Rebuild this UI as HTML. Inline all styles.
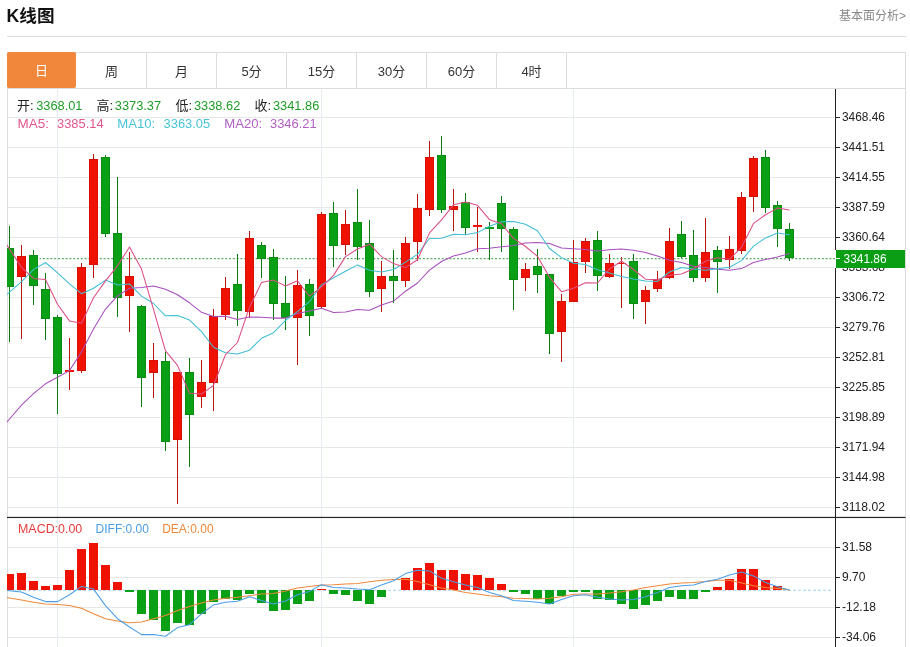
<!DOCTYPE html>
<html lang="zh-CN"><head><meta charset="utf-8"><title>K线图</title>
<style>
html,body{margin:0;padding:0;background:#fff;}
body{width:910px;height:647px;overflow:hidden;position:relative;font-family:"Liberation Sans","Noto Sans CJK SC",sans-serif;}
.title{position:absolute;left:6.4px;top:3.7px;font-size:17.6px;font-weight:bold;color:#111;line-height:24px;letter-spacing:0.1px;}
.more{position:absolute;right:4px;top:7.5px;font-size:12px;color:#888;line-height:16px;}
.hr{position:absolute;left:7px;top:36px;width:899px;height:1px;background:#dcdcdc;}
.tabs{position:absolute;left:7px;top:52px;width:897px;height:35px;border:1px solid #dcdcdc;box-sizing:content-box;}
.tab{float:left;box-sizing:border-box;width:70px;height:35px;border-right:1px solid #dcdcdc;text-align:center;line-height:37px;font-size:13px;color:#333;}
.tab.on{background:#f0873a;color:#fff;border-right:none;margin:-1px 1px 0 -1px;width:69px;height:36px;border-radius:2px;line-height:38px;}
.box{position:absolute;left:7px;top:88px;width:897px;height:559px;border-left:1px solid #dcdcdc;border-right:1px solid #dcdcdc;}
</style></head><body>
<div class="title">K线图</div>
<div class="more">基本面分析&gt;</div>
<div class="hr"></div>
<div class="tabs"><div class="tab on">日</div><div class="tab">周</div><div class="tab">月</div><div class="tab">5分</div><div class="tab">15分</div><div class="tab">30分</div><div class="tab">60分</div><div class="tab">4时</div></div>
<div class="box"></div>
<svg width="910" height="647" viewBox="0 0 910 647" style="position:absolute;left:0;top:0">
<defs><clipPath id="cp"><rect x="7" y="89" width="828" height="558"/></clipPath></defs>
<g shape-rendering="crispEdges">
<line x1="8" y1="117.5" x2="834" y2="117.5" stroke="#e7e7e7" stroke-width="1"/>
<line x1="8" y1="147.5" x2="834" y2="147.5" stroke="#e7e7e7" stroke-width="1"/>
<line x1="8" y1="177.5" x2="834" y2="177.5" stroke="#e7e7e7" stroke-width="1"/>
<line x1="8" y1="207.5" x2="834" y2="207.5" stroke="#e7e7e7" stroke-width="1"/>
<line x1="8" y1="237.5" x2="834" y2="237.5" stroke="#e7e7e7" stroke-width="1"/>
<line x1="8" y1="267.5" x2="834" y2="267.5" stroke="#e7e7e7" stroke-width="1"/>
<line x1="8" y1="297.5" x2="834" y2="297.5" stroke="#e7e7e7" stroke-width="1"/>
<line x1="8" y1="327.5" x2="834" y2="327.5" stroke="#e7e7e7" stroke-width="1"/>
<line x1="8" y1="357.5" x2="834" y2="357.5" stroke="#e7e7e7" stroke-width="1"/>
<line x1="8" y1="387.5" x2="834" y2="387.5" stroke="#e7e7e7" stroke-width="1"/>
<line x1="8" y1="417.5" x2="834" y2="417.5" stroke="#e7e7e7" stroke-width="1"/>
<line x1="8" y1="447.5" x2="834" y2="447.5" stroke="#e7e7e7" stroke-width="1"/>
<line x1="8" y1="477.5" x2="834" y2="477.5" stroke="#e7e7e7" stroke-width="1"/>
<line x1="8" y1="507.5" x2="834" y2="507.5" stroke="#e7e7e7" stroke-width="1"/>
<line x1="8" y1="547.5" x2="834" y2="547.5" stroke="#e7e7e7" stroke-width="1"/>
<line x1="8" y1="577.5" x2="834" y2="577.5" stroke="#e7e7e7" stroke-width="1"/>
<line x1="8" y1="607.5" x2="834" y2="607.5" stroke="#e7e7e7" stroke-width="1"/>
<line x1="8" y1="637.5" x2="834" y2="637.5" stroke="#e7e7e7" stroke-width="1"/>
<line x1="57.5" y1="89" x2="57.5" y2="647" stroke="#e7ecf1" stroke-width="1"/>
<line x1="321.5" y1="89" x2="321.5" y2="647" stroke="#e7ecf1" stroke-width="1"/>
<line x1="573.5" y1="89" x2="573.5" y2="647" stroke="#e7ecf1" stroke-width="1"/>
</g>
<line x1="39" y1="258.6" x2="835" y2="258.6" stroke="#5aad64" stroke-width="1.3" stroke-dasharray="2 1.8"/>
<line x1="8" y1="590.3" x2="833" y2="590.3" stroke="#a6d2f2" stroke-width="1" stroke-dasharray="3 2"/>
<rect x="8" y="250" width="31.5" height="18" fill="#fff"/>
<g clip-path="url(#cp)">
<g shape-rendering="crispEdges">
<rect x="9.0" y="226" width="1" height="116" fill="#0a7a12"/>
<rect x="5.0" y="248" width="9" height="39" fill="#088c12"/>
<rect x="6.0" y="249" width="7" height="37" fill="#0aa016"/>
<rect x="21.0" y="245" width="1" height="94" fill="#b81410"/>
<rect x="17.0" y="256" width="9" height="21" fill="#d81000"/>
<rect x="18.0" y="257" width="7" height="19" fill="#f01200"/>
<rect x="33.0" y="250" width="1" height="55" fill="#0a7a12"/>
<rect x="29.0" y="255" width="9" height="31" fill="#088c12"/>
<rect x="30.0" y="256" width="7" height="29" fill="#0aa016"/>
<rect x="45.0" y="273" width="1" height="67" fill="#0a7a12"/>
<rect x="41.0" y="289" width="9" height="30" fill="#088c12"/>
<rect x="42.0" y="290" width="7" height="28" fill="#0aa016"/>
<rect x="57.0" y="315" width="1" height="99" fill="#0a7a12"/>
<rect x="53.0" y="317" width="9" height="57" fill="#088c12"/>
<rect x="54.0" y="318" width="7" height="55" fill="#0aa016"/>
<rect x="69.0" y="338" width="1" height="52" fill="#b81410"/>
<rect x="65.0" y="370" width="9" height="2" fill="#f01200"/>
<rect x="81.0" y="263" width="1" height="110" fill="#b81410"/>
<rect x="77.0" y="267" width="9" height="104" fill="#d81000"/>
<rect x="78.0" y="268" width="7" height="102" fill="#f01200"/>
<rect x="93.0" y="154" width="1" height="124" fill="#b81410"/>
<rect x="89.0" y="159" width="9" height="106" fill="#d81000"/>
<rect x="90.0" y="160" width="7" height="104" fill="#f01200"/>
<rect x="105.0" y="155" width="1" height="82" fill="#0a7a12"/>
<rect x="101.0" y="157" width="9" height="77" fill="#088c12"/>
<rect x="102.0" y="158" width="7" height="75" fill="#0aa016"/>
<rect x="117.0" y="177" width="1" height="140" fill="#0a7a12"/>
<rect x="113.0" y="233" width="9" height="65" fill="#088c12"/>
<rect x="114.0" y="234" width="7" height="63" fill="#0aa016"/>
<rect x="129.0" y="252" width="1" height="80" fill="#b81410"/>
<rect x="125.0" y="276" width="9" height="20" fill="#d81000"/>
<rect x="126.0" y="277" width="7" height="18" fill="#f01200"/>
<rect x="141.0" y="305" width="1" height="102" fill="#0a7a12"/>
<rect x="137.0" y="306" width="9" height="72" fill="#088c12"/>
<rect x="138.0" y="307" width="7" height="70" fill="#0aa016"/>
<rect x="153.0" y="343" width="1" height="55" fill="#b81410"/>
<rect x="149.0" y="360" width="9" height="13" fill="#d81000"/>
<rect x="150.0" y="361" width="7" height="11" fill="#f01200"/>
<rect x="165.0" y="352" width="1" height="99" fill="#0a7a12"/>
<rect x="161.0" y="361" width="9" height="81" fill="#088c12"/>
<rect x="162.0" y="362" width="7" height="79" fill="#0aa016"/>
<rect x="177.0" y="372" width="1" height="132" fill="#b81410"/>
<rect x="173.0" y="372" width="9" height="68" fill="#d81000"/>
<rect x="174.0" y="373" width="7" height="66" fill="#f01200"/>
<rect x="189.0" y="358" width="1" height="109" fill="#0a7a12"/>
<rect x="185.0" y="372" width="9" height="43" fill="#088c12"/>
<rect x="186.0" y="373" width="7" height="41" fill="#0aa016"/>
<rect x="201.0" y="360" width="1" height="48" fill="#b81410"/>
<rect x="197.0" y="382" width="9" height="15" fill="#d81000"/>
<rect x="198.0" y="383" width="7" height="13" fill="#f01200"/>
<rect x="213.0" y="309" width="1" height="102" fill="#b81410"/>
<rect x="209.0" y="316" width="9" height="67" fill="#d81000"/>
<rect x="210.0" y="317" width="7" height="65" fill="#f01200"/>
<rect x="225.0" y="277" width="1" height="43" fill="#b81410"/>
<rect x="221.0" y="288" width="9" height="27" fill="#d81000"/>
<rect x="222.0" y="289" width="7" height="25" fill="#f01200"/>
<rect x="237.0" y="254" width="1" height="72" fill="#0a7a12"/>
<rect x="233.0" y="284" width="9" height="27" fill="#088c12"/>
<rect x="234.0" y="285" width="7" height="25" fill="#0aa016"/>
<rect x="249.0" y="231" width="1" height="87" fill="#b81410"/>
<rect x="245.0" y="238" width="9" height="74" fill="#d81000"/>
<rect x="246.0" y="239" width="7" height="72" fill="#f01200"/>
<rect x="261.0" y="242" width="1" height="36" fill="#0a7a12"/>
<rect x="257.0" y="245" width="9" height="14" fill="#088c12"/>
<rect x="258.0" y="246" width="7" height="12" fill="#0aa016"/>
<rect x="273.0" y="249" width="1" height="71" fill="#0a7a12"/>
<rect x="269.0" y="257" width="9" height="47" fill="#088c12"/>
<rect x="270.0" y="258" width="7" height="45" fill="#0aa016"/>
<rect x="285.0" y="276" width="1" height="54" fill="#0a7a12"/>
<rect x="281.0" y="303" width="9" height="15" fill="#088c12"/>
<rect x="282.0" y="304" width="7" height="13" fill="#0aa016"/>
<rect x="297.0" y="270" width="1" height="95" fill="#b81410"/>
<rect x="293.0" y="285" width="9" height="33" fill="#d81000"/>
<rect x="294.0" y="286" width="7" height="31" fill="#f01200"/>
<rect x="309.0" y="279" width="1" height="57" fill="#0a7a12"/>
<rect x="305.0" y="284" width="9" height="32" fill="#088c12"/>
<rect x="306.0" y="285" width="7" height="30" fill="#0aa016"/>
<rect x="321.0" y="212" width="1" height="96" fill="#b81410"/>
<rect x="317.0" y="214" width="9" height="93" fill="#d81000"/>
<rect x="318.0" y="215" width="7" height="91" fill="#f01200"/>
<rect x="333.0" y="202" width="1" height="65" fill="#0a7a12"/>
<rect x="329.0" y="213" width="9" height="33" fill="#088c12"/>
<rect x="330.0" y="214" width="7" height="31" fill="#0aa016"/>
<rect x="345.0" y="210" width="1" height="45" fill="#b81410"/>
<rect x="341.0" y="224" width="9" height="21" fill="#d81000"/>
<rect x="342.0" y="225" width="7" height="19" fill="#f01200"/>
<rect x="357.0" y="189" width="1" height="71" fill="#0a7a12"/>
<rect x="353.0" y="222" width="9" height="25" fill="#088c12"/>
<rect x="354.0" y="223" width="7" height="23" fill="#0aa016"/>
<rect x="369.0" y="220" width="1" height="77" fill="#0a7a12"/>
<rect x="365.0" y="243" width="9" height="49" fill="#088c12"/>
<rect x="366.0" y="244" width="7" height="47" fill="#0aa016"/>
<rect x="381.0" y="261" width="1" height="51" fill="#b81410"/>
<rect x="377.0" y="276" width="9" height="13" fill="#d81000"/>
<rect x="378.0" y="277" width="7" height="11" fill="#f01200"/>
<rect x="393.0" y="250" width="1" height="53" fill="#0a7a12"/>
<rect x="389.0" y="276" width="9" height="5" fill="#088c12"/>
<rect x="390.0" y="277" width="7" height="3" fill="#0aa016"/>
<rect x="405.0" y="237" width="1" height="50" fill="#b81410"/>
<rect x="401.0" y="243" width="9" height="38" fill="#d81000"/>
<rect x="402.0" y="244" width="7" height="36" fill="#f01200"/>
<rect x="417.0" y="194" width="1" height="67" fill="#b81410"/>
<rect x="413.0" y="208" width="9" height="34" fill="#d81000"/>
<rect x="414.0" y="209" width="7" height="32" fill="#f01200"/>
<rect x="429.0" y="141" width="1" height="75" fill="#b81410"/>
<rect x="425.0" y="157" width="9" height="53" fill="#d81000"/>
<rect x="426.0" y="158" width="7" height="51" fill="#f01200"/>
<rect x="441.0" y="136" width="1" height="77" fill="#0a7a12"/>
<rect x="437.0" y="155" width="9" height="55" fill="#088c12"/>
<rect x="438.0" y="156" width="7" height="53" fill="#0aa016"/>
<rect x="453.0" y="189" width="1" height="42" fill="#b81410"/>
<rect x="449.0" y="206" width="9" height="4" fill="#d81000"/>
<rect x="450.0" y="207" width="7" height="2" fill="#f01200"/>
<rect x="465.0" y="193" width="1" height="42" fill="#0a7a12"/>
<rect x="461.0" y="202" width="9" height="26" fill="#088c12"/>
<rect x="462.0" y="203" width="7" height="24" fill="#0aa016"/>
<rect x="477.0" y="207" width="1" height="45" fill="#b81410"/>
<rect x="473.0" y="225" width="9" height="2" fill="#f01200"/>
<rect x="489.0" y="222" width="1" height="38" fill="#0a7a12"/>
<rect x="485.0" y="227" width="9" height="2" fill="#0aa016"/>
<rect x="501.0" y="196" width="1" height="56" fill="#0a7a12"/>
<rect x="497.0" y="203" width="9" height="26" fill="#088c12"/>
<rect x="498.0" y="204" width="7" height="24" fill="#0aa016"/>
<rect x="513.0" y="227" width="1" height="83" fill="#0a7a12"/>
<rect x="509.0" y="229" width="9" height="51" fill="#088c12"/>
<rect x="510.0" y="230" width="7" height="49" fill="#0aa016"/>
<rect x="525.0" y="263" width="1" height="28" fill="#b81410"/>
<rect x="521.0" y="269" width="9" height="9" fill="#d81000"/>
<rect x="522.0" y="270" width="7" height="7" fill="#f01200"/>
<rect x="537.0" y="249" width="1" height="44" fill="#0a7a12"/>
<rect x="533.0" y="266" width="9" height="9" fill="#088c12"/>
<rect x="534.0" y="267" width="7" height="7" fill="#0aa016"/>
<rect x="549.0" y="274" width="1" height="80" fill="#0a7a12"/>
<rect x="545.0" y="274" width="9" height="60" fill="#088c12"/>
<rect x="546.0" y="275" width="7" height="58" fill="#0aa016"/>
<rect x="561.0" y="294" width="1" height="68" fill="#b81410"/>
<rect x="557.0" y="301" width="9" height="31" fill="#d81000"/>
<rect x="558.0" y="302" width="7" height="29" fill="#f01200"/>
<rect x="573.0" y="240" width="1" height="62" fill="#b81410"/>
<rect x="569.0" y="262" width="9" height="40" fill="#d81000"/>
<rect x="570.0" y="263" width="7" height="38" fill="#f01200"/>
<rect x="585.0" y="238" width="1" height="35" fill="#b81410"/>
<rect x="581.0" y="241" width="9" height="21" fill="#d81000"/>
<rect x="582.0" y="242" width="7" height="19" fill="#f01200"/>
<rect x="597.0" y="231" width="1" height="60" fill="#0a7a12"/>
<rect x="593.0" y="240" width="9" height="36" fill="#088c12"/>
<rect x="594.0" y="241" width="7" height="34" fill="#0aa016"/>
<rect x="609.0" y="254" width="1" height="24" fill="#b81410"/>
<rect x="605.0" y="263" width="9" height="14" fill="#d81000"/>
<rect x="606.0" y="264" width="7" height="12" fill="#f01200"/>
<rect x="621.0" y="257" width="1" height="51" fill="#b81410"/>
<rect x="617.0" y="263" width="9" height="1" fill="#f01200"/>
<rect x="633.0" y="254" width="1" height="65" fill="#0a7a12"/>
<rect x="629.0" y="261" width="9" height="43" fill="#088c12"/>
<rect x="630.0" y="262" width="7" height="41" fill="#0aa016"/>
<rect x="645.0" y="286" width="1" height="38" fill="#b81410"/>
<rect x="641.0" y="290" width="9" height="12" fill="#d81000"/>
<rect x="642.0" y="291" width="7" height="10" fill="#f01200"/>
<rect x="657.0" y="271" width="1" height="21" fill="#b81410"/>
<rect x="653.0" y="279" width="9" height="10" fill="#d81000"/>
<rect x="654.0" y="280" width="7" height="8" fill="#f01200"/>
<rect x="669.0" y="228" width="1" height="51" fill="#b81410"/>
<rect x="665.0" y="241" width="9" height="37" fill="#d81000"/>
<rect x="666.0" y="242" width="7" height="35" fill="#f01200"/>
<rect x="681.0" y="221" width="1" height="37" fill="#0a7a12"/>
<rect x="677.0" y="234" width="9" height="23" fill="#088c12"/>
<rect x="678.0" y="235" width="7" height="21" fill="#0aa016"/>
<rect x="693.0" y="230" width="1" height="52" fill="#0a7a12"/>
<rect x="689.0" y="255" width="9" height="23" fill="#088c12"/>
<rect x="690.0" y="256" width="7" height="21" fill="#0aa016"/>
<rect x="705.0" y="218" width="1" height="64" fill="#b81410"/>
<rect x="701.0" y="252" width="9" height="26" fill="#d81000"/>
<rect x="702.0" y="253" width="7" height="24" fill="#f01200"/>
<rect x="717.0" y="246" width="1" height="47" fill="#0a7a12"/>
<rect x="713.0" y="250" width="9" height="12" fill="#088c12"/>
<rect x="714.0" y="251" width="7" height="10" fill="#0aa016"/>
<rect x="729.0" y="236" width="1" height="33" fill="#b81410"/>
<rect x="725.0" y="249" width="9" height="11" fill="#d81000"/>
<rect x="726.0" y="250" width="7" height="9" fill="#f01200"/>
<rect x="741.0" y="192" width="1" height="62" fill="#b81410"/>
<rect x="737.0" y="197" width="9" height="54" fill="#d81000"/>
<rect x="738.0" y="198" width="7" height="52" fill="#f01200"/>
<rect x="753.0" y="156" width="1" height="56" fill="#b81410"/>
<rect x="749.0" y="158" width="9" height="39" fill="#d81000"/>
<rect x="750.0" y="159" width="7" height="37" fill="#f01200"/>
<rect x="765.0" y="150" width="1" height="63" fill="#0a7a12"/>
<rect x="761.0" y="157" width="9" height="51" fill="#088c12"/>
<rect x="762.0" y="158" width="7" height="49" fill="#0aa016"/>
<rect x="777.0" y="201" width="1" height="46" fill="#0a7a12"/>
<rect x="773.0" y="205" width="9" height="24" fill="#088c12"/>
<rect x="774.0" y="206" width="7" height="22" fill="#0aa016"/>
<rect x="789.0" y="223" width="1" height="38" fill="#0a7a12"/>
<rect x="785.0" y="229" width="9" height="29" fill="#088c12"/>
<rect x="786.0" y="230" width="7" height="27" fill="#0aa016"/>
</g>
<g shape-rendering="crispEdges">
<rect x="5.0" y="574" width="9" height="16" fill="#f01200"/>
<rect x="17.0" y="573" width="9" height="17" fill="#f01200"/>
<rect x="29.0" y="581" width="9" height="9" fill="#f01200"/>
<rect x="41.0" y="586" width="9" height="4" fill="#f01200"/>
<rect x="53.0" y="585" width="9" height="5" fill="#f01200"/>
<rect x="65.0" y="570" width="9" height="20" fill="#f01200"/>
<rect x="77.0" y="549" width="9" height="41" fill="#f01200"/>
<rect x="89.0" y="543" width="9" height="47" fill="#f01200"/>
<rect x="101.0" y="565" width="9" height="25" fill="#f01200"/>
<rect x="113.0" y="582" width="9" height="8" fill="#f01200"/>
<rect x="125.0" y="590" width="9" height="2" fill="#0aa016"/>
<rect x="137.0" y="590" width="9" height="24" fill="#0aa016"/>
<rect x="149.0" y="590" width="9" height="30" fill="#0aa016"/>
<rect x="161.0" y="590" width="9" height="41" fill="#0aa016"/>
<rect x="173.0" y="590" width="9" height="33" fill="#0aa016"/>
<rect x="185.0" y="590" width="9" height="35" fill="#0aa016"/>
<rect x="197.0" y="590" width="9" height="24" fill="#0aa016"/>
<rect x="209.0" y="590" width="9" height="12" fill="#0aa016"/>
<rect x="221.0" y="590" width="9" height="9" fill="#0aa016"/>
<rect x="233.0" y="590" width="9" height="10" fill="#0aa016"/>
<rect x="245.0" y="590" width="9" height="4" fill="#0aa016"/>
<rect x="257.0" y="590" width="9" height="13" fill="#0aa016"/>
<rect x="269.0" y="590" width="9" height="21" fill="#0aa016"/>
<rect x="281.0" y="590" width="9" height="20" fill="#0aa016"/>
<rect x="293.0" y="590" width="9" height="14" fill="#0aa016"/>
<rect x="305.0" y="590" width="9" height="11" fill="#0aa016"/>
<rect x="317.0" y="589" width="9" height="1" fill="#f01200"/>
<rect x="329.0" y="590" width="9" height="4" fill="#0aa016"/>
<rect x="341.0" y="590" width="9" height="5" fill="#0aa016"/>
<rect x="353.0" y="590" width="9" height="11" fill="#0aa016"/>
<rect x="365.0" y="590" width="9" height="14" fill="#0aa016"/>
<rect x="377.0" y="590" width="9" height="7" fill="#0aa016"/>
<rect x="401.0" y="578" width="9" height="12" fill="#f01200"/>
<rect x="413.0" y="568" width="9" height="22" fill="#f01200"/>
<rect x="425.0" y="563" width="9" height="27" fill="#f01200"/>
<rect x="437.0" y="570" width="9" height="20" fill="#f01200"/>
<rect x="449.0" y="570" width="9" height="20" fill="#f01200"/>
<rect x="461.0" y="574" width="9" height="16" fill="#f01200"/>
<rect x="473.0" y="575" width="9" height="15" fill="#f01200"/>
<rect x="485.0" y="578" width="9" height="12" fill="#f01200"/>
<rect x="497.0" y="584" width="9" height="6" fill="#f01200"/>
<rect x="509.0" y="590" width="9" height="2" fill="#0aa016"/>
<rect x="521.0" y="590" width="9" height="4" fill="#0aa016"/>
<rect x="533.0" y="590" width="9" height="9" fill="#0aa016"/>
<rect x="545.0" y="590" width="9" height="14" fill="#0aa016"/>
<rect x="557.0" y="590" width="9" height="6" fill="#0aa016"/>
<rect x="569.0" y="590" width="9" height="2" fill="#0aa016"/>
<rect x="581.0" y="590" width="9" height="2" fill="#0aa016"/>
<rect x="593.0" y="590" width="9" height="9" fill="#0aa016"/>
<rect x="605.0" y="590" width="9" height="10" fill="#0aa016"/>
<rect x="617.0" y="590" width="9" height="14" fill="#0aa016"/>
<rect x="629.0" y="590" width="9" height="19" fill="#0aa016"/>
<rect x="641.0" y="590" width="9" height="15" fill="#0aa016"/>
<rect x="653.0" y="590" width="9" height="11" fill="#0aa016"/>
<rect x="665.0" y="590" width="9" height="7" fill="#0aa016"/>
<rect x="677.0" y="590" width="9" height="9" fill="#0aa016"/>
<rect x="689.0" y="590" width="9" height="9" fill="#0aa016"/>
<rect x="701.0" y="590" width="9" height="2" fill="#0aa016"/>
<rect x="713.0" y="587" width="9" height="3" fill="#f01200"/>
<rect x="725.0" y="579" width="9" height="11" fill="#f01200"/>
<rect x="737.0" y="569" width="9" height="21" fill="#f01200"/>
<rect x="749.0" y="569" width="9" height="21" fill="#f01200"/>
<rect x="761.0" y="580" width="9" height="10" fill="#f01200"/>
<rect x="773.0" y="586" width="9" height="4" fill="#f01200"/>
</g>
<polyline points="-2.5,432.8 9.5,419.0 21.5,405.2 33.5,393.7 45.5,383.8 57.5,377.2 69.5,370.6 81.5,352.0 93.5,329.0 105.5,309.1 117.5,295.9 129.5,288.2 141.5,287.6 153.5,286.0 165.5,289.3 177.5,294.8 189.5,302.8 201.5,312.3 213.5,316.6 225.5,316.2 237.5,319.5 249.5,317.1 261.5,317.2 273.5,318.1 285.5,318.1 297.5,313.6 309.5,310.9 321.5,308.2 333.5,312.5 345.5,312.0 357.5,309.4 369.5,310.2 381.5,305.1 393.5,301.1 405.5,291.2 417.5,283.0 429.5,270.1 441.5,261.5 453.5,256.0 465.5,253.0 477.5,248.7 489.5,248.3 501.5,246.8 513.5,245.6 525.5,243.1 537.5,242.6 549.5,243.5 561.5,247.9 573.5,248.8 585.5,249.6 597.5,251.1 609.5,249.7 621.5,249.1 633.5,250.2 645.5,252.6 657.5,256.1 669.5,260.3 681.5,262.6 693.5,266.2 705.5,267.4 717.5,269.2 729.5,270.2 741.5,268.6 753.5,262.5 765.5,259.4 777.5,257.1 789.5,253.4" fill="none" stroke="#a84fbc" stroke-width="1.05" stroke-linejoin="round"/>
<polyline points="-2.5,302.8 9.5,292.2 21.5,281.6 33.5,269.6 45.5,262.5 57.5,272.9 69.5,283.8 81.5,293.7 93.5,288.2 105.5,280.1 117.5,285.0 129.5,283.9 141.5,296.1 153.5,303.5 165.5,315.8 177.5,315.6 189.5,320.1 201.5,331.6 213.5,347.3 225.5,352.7 237.5,354.0 249.5,350.2 261.5,338.3 273.5,332.7 285.5,320.3 297.5,311.6 309.5,301.7 321.5,284.9 333.5,277.8 345.5,271.3 357.5,264.9 369.5,270.2 381.5,271.9 393.5,269.5 405.5,262.1 417.5,254.4 429.5,238.5 441.5,238.2 453.5,234.2 465.5,234.7 477.5,232.6 489.5,226.3 501.5,221.7 513.5,221.6 525.5,224.2 537.5,230.8 549.5,248.5 561.5,257.6 573.5,263.3 585.5,264.6 597.5,269.7 609.5,273.1 621.5,276.5 633.5,278.9 645.5,280.9 657.5,281.4 669.5,272.0 681.5,267.6 693.5,269.1 705.5,270.2 717.5,268.7 729.5,267.2 741.5,260.6 753.5,246.1 765.5,237.9 777.5,232.9 789.5,234.7" fill="none" stroke="#3fbed2" stroke-width="1.05" stroke-linejoin="round"/>
<polyline points="-2.5,230.6 9.5,249.0 21.5,267.4 33.5,278.4 45.5,279.5 57.5,304.2 69.5,320.9 81.5,323.2 93.5,297.8 105.5,280.9 117.5,265.8 129.5,247.0 141.5,269.1 153.5,309.3 165.5,350.8 177.5,365.4 189.5,393.2 201.5,394.1 213.5,385.3 225.5,354.6 237.5,342.5 249.5,307.2 261.5,282.5 273.5,280.1 285.5,286.0 297.5,280.8 309.5,296.2 321.5,287.2 333.5,275.4 345.5,256.6 357.5,249.0 369.5,244.2 381.5,256.6 393.5,263.6 405.5,267.6 417.5,259.8 429.5,232.9 441.5,219.8 453.5,204.8 465.5,201.9 477.5,205.3 489.5,219.7 501.5,223.5 513.5,238.4 525.5,246.5 537.5,256.3 549.5,277.3 561.5,291.7 573.5,288.2 585.5,282.7 597.5,283.0 609.5,268.9 621.5,261.2 633.5,269.5 645.5,279.2 657.5,279.7 669.5,275.2 681.5,274.0 693.5,268.8 705.5,261.2 717.5,257.8 729.5,259.3 741.5,247.3 753.5,223.4 765.5,214.7 777.5,208.1 789.5,210.1" fill="none" stroke="#dc4e86" stroke-width="1.05" stroke-linejoin="round"/>
<polyline points="-2.5,596.0 9.5,598.0 21.5,600.0 33.5,602.3 45.5,603.9 57.5,604.6 69.5,605.6 81.5,608.2 93.5,613.8 105.5,618.7 117.5,621.0 129.5,622.7 141.5,622.0 153.5,618.7 165.5,615.4 177.5,610.5 189.5,606.5 201.5,602.9 213.5,600.0 225.5,598.3 237.5,597.3 249.5,595.7 261.5,594.0 273.5,593.4 285.5,591.0 297.5,588.1 309.5,586.4 321.5,585.1 333.5,584.8 345.5,584.1 357.5,583.5 369.5,581.8 381.5,580.2 393.5,579.5 405.5,579.2 417.5,581.5 429.5,584.8 441.5,588.1 453.5,590.0 465.5,592.4 477.5,594.0 489.5,595.7 501.5,596.7 513.5,598.3 525.5,598.6 537.5,599.0 549.5,598.3 561.5,596.7 573.5,594.2 585.5,594.0 597.5,594.0 609.5,593.0 621.5,591.7 633.5,590.0 645.5,587.4 657.5,585.8 669.5,584.1 681.5,583.1 693.5,582.5 705.5,581.5 717.5,580.2 729.5,580.2 741.5,583.1 753.5,585.8 765.5,587.4 777.5,588.4 789.5,590.0" fill="none" stroke="#f0883a" stroke-width="1.05" stroke-linejoin="round"/>
<polyline points="-2.5,589.4 9.5,590.7 21.5,592.0 33.5,597.3 45.5,601.6 57.5,601.6 69.5,594.7 81.5,586.4 93.5,589.1 105.5,605.6 117.5,618.7 129.5,627.0 141.5,634.6 153.5,634.6 165.5,636.2 177.5,627.6 189.5,624.7 201.5,613.8 213.5,604.9 225.5,602.3 237.5,601.3 249.5,596.7 261.5,600.6 273.5,603.9 285.5,601.0 297.5,594.7 309.5,591.4 321.5,584.8 333.5,587.4 345.5,588.1 357.5,589.1 369.5,589.7 381.5,585.1 393.5,580.8 405.5,573.6 417.5,570.3 429.5,570.9 441.5,578.2 453.5,581.8 465.5,585.1 477.5,587.4 489.5,592.4 501.5,595.7 513.5,600.6 525.5,601.3 537.5,602.3 549.5,603.9 561.5,599.6 573.5,595.7 585.5,594.7 597.5,597.3 609.5,599.0 621.5,600.0 633.5,599.6 645.5,596.7 657.5,592.4 669.5,587.4 681.5,585.8 693.5,585.1 705.5,581.5 717.5,579.2 729.5,574.9 741.5,571.9 753.5,575.9 765.5,582.5 777.5,586.8 789.5,590.0" fill="none" stroke="#4a9ee6" stroke-width="1.05" stroke-linejoin="round"/>
</g>
<rect x="7" y="516.85" width="898.5" height="1.2" fill="#262626"/>
<g shape-rendering="crispEdges">
<line x1="835.5" y1="89" x2="835.5" y2="647" stroke="#222" stroke-width="1"/>
<line x1="836" y1="117.5" x2="840" y2="117.5" stroke="#222" stroke-width="1"/>
<line x1="836" y1="147.5" x2="840" y2="147.5" stroke="#222" stroke-width="1"/>
<line x1="836" y1="177.5" x2="840" y2="177.5" stroke="#222" stroke-width="1"/>
<line x1="836" y1="207.5" x2="840" y2="207.5" stroke="#222" stroke-width="1"/>
<line x1="836" y1="237.5" x2="840" y2="237.5" stroke="#222" stroke-width="1"/>
<line x1="836" y1="267.5" x2="840" y2="267.5" stroke="#222" stroke-width="1"/>
<line x1="836" y1="297.5" x2="840" y2="297.5" stroke="#222" stroke-width="1"/>
<line x1="836" y1="327.5" x2="840" y2="327.5" stroke="#222" stroke-width="1"/>
<line x1="836" y1="357.5" x2="840" y2="357.5" stroke="#222" stroke-width="1"/>
<line x1="836" y1="387.5" x2="840" y2="387.5" stroke="#222" stroke-width="1"/>
<line x1="836" y1="417.5" x2="840" y2="417.5" stroke="#222" stroke-width="1"/>
<line x1="836" y1="447.5" x2="840" y2="447.5" stroke="#222" stroke-width="1"/>
<line x1="836" y1="477.5" x2="840" y2="477.5" stroke="#222" stroke-width="1"/>
<line x1="836" y1="507.5" x2="840" y2="507.5" stroke="#222" stroke-width="1"/>
<line x1="836" y1="547.5" x2="840" y2="547.5" stroke="#222" stroke-width="1"/>
<line x1="836" y1="577.5" x2="840" y2="577.5" stroke="#222" stroke-width="1"/>
<line x1="836" y1="607.5" x2="840" y2="607.5" stroke="#222" stroke-width="1"/>
<line x1="836" y1="637.5" x2="840" y2="637.5" stroke="#222" stroke-width="1"/>
</g>
<g font-family="'Liberation Sans', sans-serif" font-size="12" fill="#222">
<text x="842" y="121.4" textLength="43" lengthAdjust="spacingAndGlyphs">3468.46</text>
<text x="842" y="151.4" textLength="43" lengthAdjust="spacingAndGlyphs">3441.51</text>
<text x="842" y="181.4" textLength="43" lengthAdjust="spacingAndGlyphs">3414.55</text>
<text x="842" y="211.4" textLength="43" lengthAdjust="spacingAndGlyphs">3387.59</text>
<text x="842" y="241.4" textLength="43" lengthAdjust="spacingAndGlyphs">3360.64</text>
<text x="842" y="271.4" textLength="43" lengthAdjust="spacingAndGlyphs">3333.68</text>
<text x="842" y="301.4" textLength="43" lengthAdjust="spacingAndGlyphs">3306.72</text>
<text x="842" y="331.4" textLength="43" lengthAdjust="spacingAndGlyphs">3279.76</text>
<text x="842" y="361.4" textLength="43" lengthAdjust="spacingAndGlyphs">3252.81</text>
<text x="842" y="391.4" textLength="43" lengthAdjust="spacingAndGlyphs">3225.85</text>
<text x="842" y="421.4" textLength="43" lengthAdjust="spacingAndGlyphs">3198.89</text>
<text x="842" y="451.4" textLength="43" lengthAdjust="spacingAndGlyphs">3171.94</text>
<text x="842" y="481.4" textLength="43" lengthAdjust="spacingAndGlyphs">3144.98</text>
<text x="842" y="511.4" textLength="43" lengthAdjust="spacingAndGlyphs">3118.02</text>
<text x="842" y="551.4">31.58</text>
<text x="842" y="581.4">9.70</text>
<text x="842" y="611.4">-12.18</text>
<text x="842" y="641.4">-34.06</text>
</g>
<rect x="835" y="250" width="1" height="18" fill="#fff" shape-rendering="crispEdges"/>
<rect x="836" y="250" width="69" height="18" fill="#0a9e14" shape-rendering="crispEdges"/>
<rect x="836" y="258" width="4" height="1" fill="#fff" shape-rendering="crispEdges"/>
<text x="843.6" y="263.4" font-family="'Liberation Sans', sans-serif" font-size="12" fill="#fff" textLength="43" lengthAdjust="spacingAndGlyphs">3341.86</text>
<g font-family="'Liberation Sans','Noto Sans CJK SC',sans-serif" font-size="13">
<text x="17.0" y="109.7" fill="#222">开:</text><text x="36.2" y="109.7" fill="#1f9c27" textLength="46.3" lengthAdjust="spacingAndGlyphs">3368.01</text>
<text x="96.4" y="109.7" fill="#222">高:</text><text x="114.8" y="109.7" fill="#1f9c27" textLength="46.3" lengthAdjust="spacingAndGlyphs">3373.37</text>
<text x="175.6" y="109.7" fill="#222">低:</text><text x="194" y="109.7" fill="#1f9c27" textLength="46.3" lengthAdjust="spacingAndGlyphs">3338.62</text>
<text x="254.6" y="109.7" fill="#222">收:</text><text x="273" y="109.7" fill="#1f9c27" textLength="46.3" lengthAdjust="spacingAndGlyphs">3341.86</text>
<text x="17.6" y="128" fill="#e2568c" textLength="31.4" lengthAdjust="spacingAndGlyphs">MA5:</text><text x="57" y="128" fill="#e2568c" textLength="46.6" lengthAdjust="spacingAndGlyphs">3385.14</text>
<text x="117.2" y="128" fill="#46c4d6" textLength="38" lengthAdjust="spacingAndGlyphs">MA10:</text><text x="163.6" y="128" fill="#46c4d6" textLength="46.6" lengthAdjust="spacingAndGlyphs">3363.05</text>
<text x="224.2" y="128" fill="#b25fc4" textLength="38" lengthAdjust="spacingAndGlyphs">MA20:</text><text x="270" y="128" fill="#b25fc4" textLength="46.6" lengthAdjust="spacingAndGlyphs">3346.21</text>
</g>
<g font-family="'Liberation Sans','Noto Sans CJK SC',sans-serif" font-size="12">
<text x="18" y="532.8" fill="#e63a3a" textLength="64.3" lengthAdjust="spacingAndGlyphs">MACD:0.00</text>
<text x="95.6" y="532.8" fill="#4a9ee6">DIFF:0.00</text>
<text x="162.2" y="532.8" fill="#f0883a">DEA:0.00</text>
</g>
</svg>
</body></html>
